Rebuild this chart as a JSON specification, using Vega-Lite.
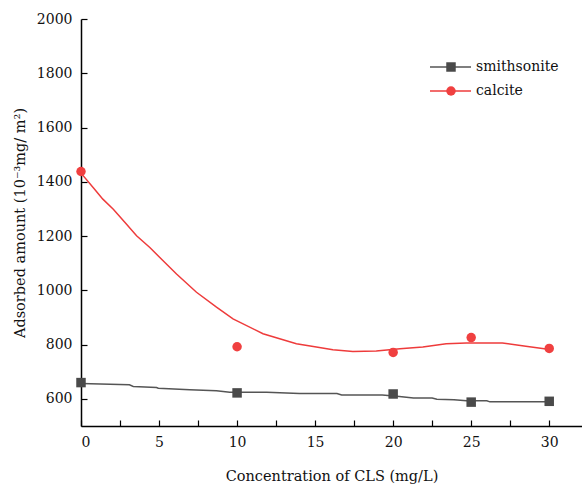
{
  "$schema": "https://vega.github.io/schema/vega-lite/v6.json",
  "width": 501,
  "height": 407,
  "autosize": {"type": "none"},
  "padding": {"left": 81, "top": 19, "right": 0, "bottom": 62},
  "background": "white",
  "config": {
    "view": {"stroke": null},
    "font": "DejaVu Serif",
    "axis": {
      "labelFont": "DejaVu Serif",
      "titleFont": "DejaVu Serif",
      "labelFontSize": 14,
      "titleFontSize": 14.5,
      "titleFontWeight": "normal",
      "labelColor": "#111",
      "titleColor": "#111",
      "domainColor": "#000",
      "domainWidth": 1.5,
      "tickColor": "#000",
      "tickWidth": 1.2,
      "grid": false
    },
    "legend": {
      "labelFont": "DejaVu Serif",
      "labelFontSize": 14,
      "labelColor": "#111"
    }
  },
  "datasets": {
    "pts": [
      {"mineral": "smithsonite", "x": 0, "y": 660},
      {"mineral": "smithsonite", "x": 10, "y": 622},
      {"mineral": "smithsonite", "x": 20, "y": 618},
      {"mineral": "smithsonite", "x": 25, "y": 588},
      {"mineral": "smithsonite", "x": 30, "y": 591},
      {"mineral": "calcite", "x": 0, "y": 1438},
      {"mineral": "calcite", "x": 10, "y": 792},
      {"mineral": "calcite", "x": 20, "y": 771},
      {"mineral": "calcite", "x": 25, "y": 826},
      {"mineral": "calcite", "x": 30, "y": 786}
    ],
    "fit": [
      {"series": "smithsonite", "x": 0, "y": 657},
      {"series": "smithsonite", "x": 3.1, "y": 652},
      {"series": "smithsonite", "x": 3.35, "y": 646},
      {"series": "smithsonite", "x": 4.84, "y": 642},
      {"series": "smithsonite", "x": 4.95, "y": 639},
      {"series": "smithsonite", "x": 6.97, "y": 634},
      {"series": "smithsonite", "x": 8.68, "y": 630},
      {"series": "smithsonite", "x": 9.53, "y": 624},
      {"series": "smithsonite", "x": 11.9, "y": 624},
      {"series": "smithsonite", "x": 14, "y": 620},
      {"series": "smithsonite", "x": 16.4, "y": 620},
      {"series": "smithsonite", "x": 16.7, "y": 614},
      {"series": "smithsonite", "x": 19.3, "y": 614},
      {"series": "smithsonite", "x": 20.4, "y": 609},
      {"series": "smithsonite", "x": 21.3, "y": 603},
      {"series": "smithsonite", "x": 22.5, "y": 603},
      {"series": "smithsonite", "x": 22.8, "y": 599},
      {"series": "smithsonite", "x": 23.9, "y": 597},
      {"series": "smithsonite", "x": 24.7, "y": 593},
      {"series": "smithsonite", "x": 26.0, "y": 593},
      {"series": "smithsonite", "x": 26.2, "y": 589},
      {"series": "smithsonite", "x": 30, "y": 589},
      {"series": "calcite", "x": 0, "y": 1432},
      {"series": "calcite", "x": 0.79, "y": 1378},
      {"series": "calcite", "x": 1.4, "y": 1336},
      {"series": "calcite", "x": 2.07, "y": 1299},
      {"series": "calcite", "x": 2.82, "y": 1250},
      {"series": "calcite", "x": 3.56, "y": 1201},
      {"series": "calcite", "x": 4.41, "y": 1158},
      {"series": "calcite", "x": 5.05, "y": 1121},
      {"series": "calcite", "x": 6.12, "y": 1060},
      {"series": "calcite", "x": 7.4, "y": 993},
      {"series": "calcite", "x": 8.68, "y": 938},
      {"series": "calcite", "x": 9.74, "y": 895},
      {"series": "calcite", "x": 11.66, "y": 840},
      {"series": "calcite", "x": 13.8, "y": 803},
      {"series": "calcite", "x": 15.08, "y": 791},
      {"series": "calcite", "x": 16.14, "y": 781},
      {"series": "calcite", "x": 17.42, "y": 775},
      {"series": "calcite", "x": 18.92, "y": 776},
      {"series": "calcite", "x": 20.44, "y": 785},
      {"series": "calcite", "x": 21.9, "y": 791},
      {"series": "calcite", "x": 23.4, "y": 803},
      {"series": "calcite", "x": 24.7, "y": 806},
      {"series": "calcite", "x": 27.0, "y": 806},
      {"series": "calcite", "x": 28.5, "y": 794},
      {"series": "calcite", "x": 29.8, "y": 784},
      {"series": "calcite", "x": 30, "y": 783}
    ]
  },
  "layer": [
    {
      "mark": {"type": "rule", "color": "#000", "strokeWidth": 1.5},
      "encoding": {"y": {"datum": 2000, "type": "quantitative", "scale": {"domain": [500, 2000], "nice": false}}}
    },
    {
      "data": {"name": "fit"},
      "mark": {"type": "line", "strokeWidth": 1.5, "interpolate": "linear"},
      "encoding": {
        "x": {
          "field": "x", "type": "quantitative",
          "scale": {"domain": [0, 32.1], "nice": false, "zero": false},
          "axis": {
            "title": "Concentration of CLS (mg/L)",
            "values": [0, 2.5, 5, 7.5, 10, 12.5, 15, 17.5, 20, 22.5, 25, 27.5, 30],
            "labelExpr": "datum.value % 5 === 0 ? datum.label : ''",
            "tickSize": -6,
            "labelPadding": 15,
            "titlePadding": 20
          }
        },
        "y": {
          "field": "y", "type": "quantitative",
          "scale": {"domain": [500, 2000], "nice": false, "zero": false},
          "axis": {
            "title": "Adsorbed amount  (10⁻³mg/ m²)",
            "values": [600, 700, 800, 900, 1000, 1100, 1200, 1300, 1400, 1500, 1600, 1700, 1800, 1900, 2000],
            "labelExpr": "datum.value % 200 === 0 ? datum.value : ''",
            "tickSize": -6,
            "labelPadding": 15,
            "titlePadding": 9
          }
        },
        "stroke": {
          "field": "series", "type": "nominal",
          "scale": {"domain": ["smithsonite", "calcite"], "range": ["#555555", "#ee3b3b"]},
          "legend": {
            "title": null,
            "orient": "none",
            "legendX": 348,
            "legendY": 36,
            "symbolType": "stroke",
            "symbolSize": 1681,
            "symbolStrokeWidth": 1.5,
            "labelOffset": 4,
            "padding": 0,
            "rowPadding": 0,
            "clipHeight": 24
          }
        }
      }
    },
    {
      "data": {"name": "pts"},
      "mark": {"type": "point", "filled": true, "opacity": 1, "strokeWidth": 0},
      "encoding": {
        "x": {"field": "x", "type": "quantitative"},
        "y": {"field": "y", "type": "quantitative"},
        "fill": {
          "field": "mineral", "type": "nominal",
          "scale": {"range": ["#f04040", "#4a4a4a"]},
          "legend": {
            "title": null,
            "orient": "none",
            "legendX": 363,
            "legendY": 36,
            "values": ["smithsonite", "calcite"],
            "labelExpr": "''",
            "symbolSize": 90,
            "symbolStrokeWidth": 0,
            "padding": 0,
            "rowPadding": 0,
            "clipHeight": 24
          }
        },
        "shape": {
          "field": "mineral", "type": "nominal",
          "scale": {"range": ["circle", "square"]}
        },
        "size": {"value": 90}
      }
    }
  ]
}
